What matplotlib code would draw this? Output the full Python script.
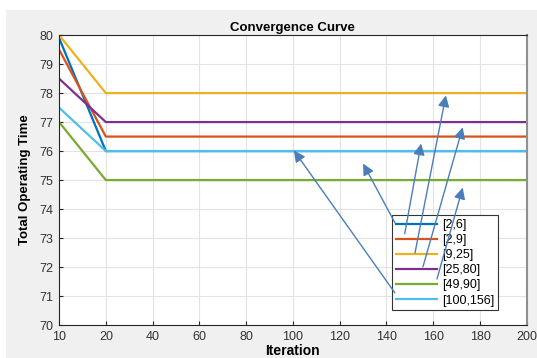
import matplotlib.pyplot as plt
from matplotlib.patches import Rectangle

plt.rcParams['font.family'] = ['Liberation Sans', 'DejaVu Sans']

# iteration ticks (evenly spaced on the axis)
iterations = [10, 20, 40, 60, 80, 100, 120, 140, 160, 180, 200]

labels = ['[2,6]', '[2,9]', '[9,25]', '[25,80]', '[49,90]', '[100,156]']
start_vals = [79.9, 79.5, 80.0, 78.5, 77.0, 77.5]
final_vals = [76.0, 76.5, 78.0, 77.0, 75.0, 76.0]
colors = ['#0072BD', '#D95319', '#EDB120', '#7E2F8E', '#77AC30', '#4DBEEE']

# arrow tails (near legend) and heads, as (position index, value)
arrow_tails = [(7.18, 73.53), (7.39, 73.15), (7.61, 72.49), (7.78, 72.01), (8.08, 71.59), (7.18, 71.11)]
arrow_heads = [(6.50, 75.57), (7.74, 76.26), (8.27, 77.92), (8.63, 76.82), (8.63, 74.74), (5.02, 76.02)]

fig = plt.figure(figsize=(5.37, 3.58), dpi=100)
fig.patch.set_facecolor('white')
fig.patches.append(Rectangle((0.011, 0), 0.989, 0.972, transform=fig.transFigure,
                             facecolor='#f0f0f0', edgecolor='none', zorder=-10))

ax = fig.add_axes([0.110, 0.092, 0.871, 0.810])
ax.set_facecolor('white')

pos = list(range(len(iterations)))
for lab, s, f, c in zip(labels, start_vals, final_vals, colors):
    yvals = [s] + [f] * (len(iterations) - 1)
    ax.plot(pos, yvals, color=c, lw=1.6, label=lab)

for (tx, ty), (hx, hy) in zip(arrow_tails, arrow_heads):
    ax.annotate('', xy=(hx, hy), xytext=(tx, ty), zorder=10,
                arrowprops=dict(arrowstyle='-|>', color='#4a7ebb', lw=1.0,
                                mutation_scale=17, shrinkA=0, shrinkB=0))

ax.set_xlim(0, len(iterations) - 1)
ax.set_ylim(70, 80)
ax.set_xticks(pos)
ax.set_xticklabels([str(v) for v in iterations])
ax.set_yticks(range(70, 81))
ax.grid(True, color='#e3e3e3', lw=0.8)
ax.set_axisbelow(True)
ax.tick_params(direction='in', length=3, labelsize=9, colors='#262626', labelcolor='#333333', pad=4)
for sp in ax.spines.values():
    sp.set_color('#262626')
    sp.set_linewidth(0.8)
ax.spines['right'].set_color('#909090')
ax.spines['right'].set_linewidth(1.5)

ax.set_title('Convergence Curve', fontsize=9.5, fontweight='bold', pad=3)
ax.set_xlabel('Iteration', fontsize=10, fontweight='bold', labelpad=1)
ax.set_ylabel('Total Operating Time', fontsize=9.5, fontweight='bold', labelpad=6)

leg = ax.legend(loc='upper left', bbox_to_anchor=(0.712, 0.379), borderaxespad=0,
                fancybox=False, framealpha=1, edgecolor='#333333', fontsize=9,
                handlelength=3.3, labelspacing=0.25, borderpad=0.3, handletextpad=0.4)
leg.get_frame().set_linewidth(0.8)
leg.set_zorder(5)

fig.savefig('out.png', dpi=100)
